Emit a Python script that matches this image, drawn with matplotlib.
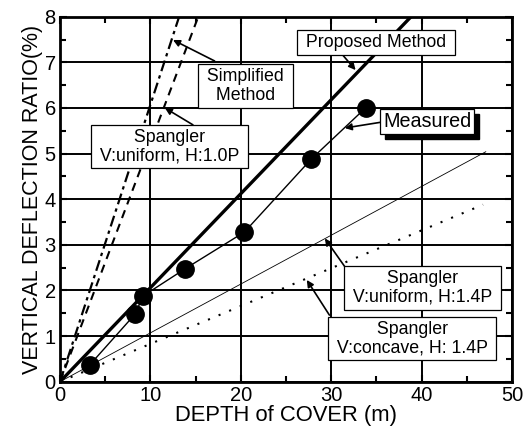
import matplotlib
matplotlib.use("Agg")
import matplotlib.pyplot as plt
from matplotlib.ticker import MultipleLocator
from matplotlib.patches import Rectangle

plt.rcParams['font.family'] = ['Liberation Sans', 'DejaVu Sans']

# Measured data
measured_depth = [3.3, 8.3, 9.2, 13.8, 20.4, 27.8, 33.8]
measured_ratio = [0.37, 1.48, 1.88, 2.47, 3.28, 4.88, 6.0]

# Model lines (end points)
proposed_x = [0, 40]
proposed_y = [0, 8.24]
simplified_x = [0, 14]
simplified_y = [0, 8.5]
spangler10_x = [0, 16]
spangler10_y = [0, 8.37]
spangler14_x = [0, 47.1]
spangler14_y = [0, 5.04]
concave_x = [0, 46.8]
concave_y = [0, 3.88]

fig = plt.figure(figsize=(5.27, 4.43), dpi=100)
ax = fig.add_axes([0.1139, 0.1384, 0.8576, 0.8239])
ax.set_xlim(0, 50)
ax.set_ylim(0, 8)

ax.xaxis.set_major_locator(MultipleLocator(10))
ax.xaxis.set_minor_locator(MultipleLocator(5))
ax.yaxis.set_major_locator(MultipleLocator(1))
ax.yaxis.set_minor_locator(MultipleLocator(0.5))
ax.tick_params(which='both', direction='in', top=True, right=True, color='black', width=1.5)
ax.tick_params(which='major', length=5, labelsize=14.5, pad=3)
ax.tick_params(which='minor', length=4)
ax.grid(True, which='major', color='black', linewidth=1.4)
for s in ax.spines.values():
    s.set_linewidth(2)

ax.plot(simplified_x, simplified_y, color='black', lw=1.6, ls=(0, (5, 2, 1.5, 2)), zorder=3)
ax.plot(spangler10_x, spangler10_y, color='black', lw=1.5, ls=(0, (4, 3)), zorder=3)
ax.plot(proposed_x, proposed_y, color='black', lw=2.4, zorder=3)
ax.plot(spangler14_x, spangler14_y, color='black', lw=0.6, zorder=3)
ax.plot(concave_x, concave_y, color='black', lw=1.5, ls=(0, (1, 4.5)), zorder=3)
ax.plot(measured_depth, measured_ratio, color='black', lw=1.0, marker='o', ms=12.5, zorder=4)

ax.set_xlabel('DEPTH of COVER (m)', fontsize=15.8, labelpad=0)
ax.set_ylabel('VERTICAL DEFLECTION RATIO(%)', fontsize=15.5, labelpad=1)

box = dict(boxstyle='square,pad=0.22', fc='white', ec='black', lw=0.9)
arrow = dict(arrowstyle='-|>', color='black', lw=1.2, mutation_scale=10, shrinkA=0, shrinkB=0)

def note(text, xy, xytext, tail, fs=12.8):
    t = ax.text(xytext[0], xytext[1], text, ha='center', va='center', fontsize=fs,
                bbox=box, zorder=10, linespacing=1.12)
    ax.annotate('', xy=xy, xytext=tail, arrowprops=arrow, zorder=9)
    return t

note(' Proposed Method ', (32.7, 6.83), (35.0, 7.44), (31.1, 7.2))
note(' Simplified \n Method ', (12.5, 7.49), (20.5, 6.48), (17.1, 7.03))
note(' Spangler \n V:uniform, H:1.0P ', (11.6, 6.0), (12.1, 5.15), (14.7, 5.63))
note(' Spangler \n V:uniform, H:1.4P ', (29.3, 3.14), (40.1, 2.05), (31.9, 2.41))
note(' Spangler \n V:concave, H: 1.4P ', (27.3, 2.23), (38.95, 0.95), (29.8, 1.46))

# Measured label with drop shadow
ax.annotate('', xy=(31.5, 5.56), xytext=(35.6, 5.69), arrowprops=arrow, zorder=9)
inv = fig.transFigure.inverted()
mpos = inv.transform(ax.transData.transform((40.6, 5.70)))
mt = fig.text(mpos[0], mpos[1], 'Measured', ha='center', va='center', fontsize=14.2,
              bbox=dict(boxstyle='square,pad=0.15', fc='white', ec='black', lw=0.9), zorder=12)
fig.canvas.draw()
bb = mt.get_bbox_patch().get_window_extent()
(x0, y0), (x1, y1) = inv.transform([(bb.x0 + 5, bb.y0 - 5), (bb.x1 + 5, bb.y1 - 5)])
fig.add_artist(Rectangle((x0, y0), x1 - x0, y1 - y0, transform=fig.transFigure,
                         fc='black', ec='black', zorder=11))

fig.savefig('out.png', dpi=100)
